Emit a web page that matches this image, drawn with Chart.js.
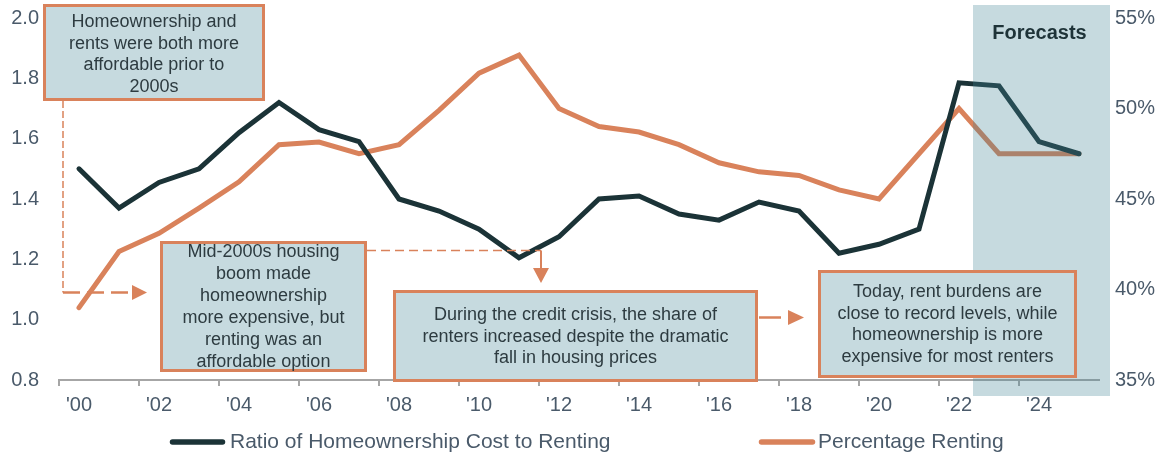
<!DOCTYPE html>
<html>
<head>
<meta charset="utf-8">
<script src="https://cdn.jsdelivr.net/npm/chart.js@4.4.1/dist/chart.umd.min.js"></script>
<style>
  html, body { margin: 0; padding: 0; background: #ffffff; }
  canvas { display: block; }
</style>
</head>
<body>
<canvas id="chart" width="1159" height="458"></canvas>
<script>
// Annual series, 2000-2025 (2023 onward are forecasts)
const years = [2000, 2001, 2002, 2003, 2004, 2005, 2006, 2007, 2008, 2009, 2010, 2011, 2012,
               2013, 2014, 2015, 2016, 2017, 2018, 2019, 2020, 2021, 2022, 2023, 2024, 2025];

// Ratio of homeownership cost to renting (left axis)
const ratioOwnToRent = [1.50, 1.37, 1.455, 1.50, 1.62, 1.72, 1.63, 1.59, 1.40, 1.36, 1.30, 1.205, 1.275,
                        1.40, 1.41, 1.35, 1.33, 1.39, 1.36, 1.22, 1.25, 1.30, 1.785, 1.775, 1.59, 1.55];

// Percentage of households renting (right axis, %)
const pctRenting = [39.0, 42.1, 43.1, 44.5, 45.95, 48.0, 48.15, 47.5, 48.0, 49.9, 51.95, 52.95, 50.0,
                    49.0, 48.7, 48.0, 47.0, 46.5, 46.3, 45.5, 45.0, 47.5, 50.0, 47.5, 47.5, 47.5];

// Labels shown under every other year
const xTickLabels = ["'00", "'02", "'04", "'06", "'08", "'10", "'12", "'14", "'16", "'18", "'20", "'22", "'24"];

const seriesNames = ['Ratio of Homeownership Cost to Renting', 'Percentage Renting'];

const DARK = '#1b3337';
const ORANGE = '#d9825b';
const PANEL = '#c6dadf';
const AXIS_TEXT = '#4a5a6a';
const NOTE_TEXT = '#2d3b40';
const FONT = "'Liberation Sans', Arial, Helvetica, sans-serif";

Chart.defaults.font.family = FONT;

// Callout notes (text is drawn centred in each box)
const notes = [
  { x1: 43, y1: 4, x2: 265, y2: 101, first: 22, step: 21.7,
    lines: ['Homeownership and', 'rents were both more', 'affordable prior to', '2000s'] },
  { x1: 160, y1: 241, x2: 367, y2: 372, first: 252.5, step: 21.9,
    lines: ['Mid-2000s housing', 'boom made', 'homeownership', 'more expensive, but', 'renting was an', 'affordable option'] },
  { x1: 393, y1: 290, x2: 758, y2: 382, first: 315, step: 21.6,
    lines: ['During the credit crisis, the share of', 'renters increased despite the dramatic', 'fall in housing prices'] },
  { x1: 818, y1: 270, x2: 1077, y2: 378, first: 292, step: 21.7,
    lines: ['Today, rent burdens are', 'close to record levels, while', 'homeownership is more', 'expensive for most renters'] }
];

function arrowHead(ctx, tipX, tipY, dir, len, half) {
  ctx.beginPath();
  if (dir === 'right') {
    ctx.moveTo(tipX, tipY);
    ctx.lineTo(tipX - len, tipY - half);
    ctx.lineTo(tipX - len, tipY + half);
  } else {
    ctx.moveTo(tipX, tipY);
    ctx.lineTo(tipX - half, tipY - len);
    ctx.lineTo(tipX + half, tipY - len);
  }
  ctx.closePath();
  ctx.fill();
}

// Vertical axes: no extra room for half-labels, the layout padding covers it
const noVerticalOverflow = s => { s.paddingTop = 0; s.paddingBottom = 0; };

// Forecast shading sits over the lines, tinting them
const forecastShade = {
  id: 'forecastShade',
  afterDatasetsDraw(chart) {
    const { ctx, chartArea, scales } = chart;
    const x = scales.x;
    const step = x.getPixelForValue(23) - x.getPixelForValue(22);
    const left = x.getPixelForValue(22) + 0.35 * step;
    const right = chartArea.right + 11;
    const top = chartArea.top - 13;
    const bottom = chartArea.bottom + 16;
    ctx.save();
    ctx.fillStyle = 'rgba(65,132,148,0.30)';
    ctx.fillRect(left, top, right - left, bottom - top);
    ctx.fillStyle = '#1e3338';
    ctx.font = 'bold 20px ' + FONT;
    ctx.textAlign = 'center';
    ctx.textBaseline = 'middle';
    ctx.fillText('Forecasts', (left + right) / 2 - 2, 33);
    ctx.restore();
  }
};

// Callout boxes, connectors and the legend
const overlays = {
  id: 'overlays',
  afterDraw(chart) {
    const ctx = chart.ctx;
    ctx.save();

    // connectors
    ctx.strokeStyle = ORANGE;
    ctx.fillStyle = ORANGE;
    ctx.lineCap = 'butt';

    // note 1: down then right
    ctx.lineWidth = 1.5;
    ctx.setLineDash([7, 3]);
    ctx.beginPath();
    ctx.moveTo(63, 101);
    ctx.lineTo(63, 292.5);
    ctx.stroke();
    ctx.lineWidth = 2.5;
    ctx.setLineDash([17, 7]);
    ctx.beginPath();
    ctx.moveTo(63, 292.5);
    ctx.lineTo(132, 292.5);
    ctx.stroke();
    ctx.setLineDash([]);
    arrowHead(ctx, 147, 292.5, 'right', 15, 7.5);

    // note 2: right then down
    ctx.lineWidth = 1.5;
    ctx.setLineDash([9, 5]);
    ctx.beginPath();
    ctx.moveTo(367, 250.5);
    ctx.lineTo(541, 250.5);
    ctx.stroke();
    ctx.setLineDash([]);
    ctx.lineWidth = 2;
    ctx.beginPath();
    ctx.moveTo(541, 250.5);
    ctx.lineTo(541, 269);
    ctx.stroke();
    arrowHead(ctx, 541, 283, 'down', 15, 8);

    // note 3 -> note 4
    ctx.lineWidth = 2.5;
    ctx.beginPath();
    ctx.moveTo(759, 317.5);
    ctx.lineTo(781, 317.5);
    ctx.stroke();
    arrowHead(ctx, 804, 317.5, 'right', 16, 7.5);

    // boxes
    notes.forEach(n => {
      ctx.fillStyle = PANEL;
      ctx.fillRect(n.x1, n.y1, n.x2 - n.x1, n.y2 - n.y1);
      ctx.lineWidth = 3;
      ctx.strokeStyle = ORANGE;
      ctx.strokeRect(n.x1 + 1.5, n.y1 + 1.5, n.x2 - n.x1 - 3, n.y2 - n.y1 - 3);
      ctx.fillStyle = NOTE_TEXT;
      ctx.font = '18px ' + FONT;
      ctx.textAlign = 'center';
      ctx.textBaseline = 'middle';
      const cx = (n.x1 + n.x2) / 2;
      n.lines.forEach((t, i) => ctx.fillText(t, cx, n.first + i * n.step));
    });

    // legend
    const items = [
      { x0: 172.5, x1: 222.5, tx: 230 },
      { x0: 761.5, x1: 812.5, tx: 818 }
    ];
    chart.data.datasets.forEach((ds, i) => {
      const it = items[i];
      const y = 442;
      ctx.strokeStyle = ds.borderColor;
      ctx.lineWidth = 5.5;
      ctx.lineCap = 'round';
      ctx.beginPath();
      ctx.moveTo(it.x0, y);
      ctx.lineTo(it.x1, y);
      ctx.stroke();
      ctx.fillStyle = AXIS_TEXT;
      ctx.font = '21px ' + FONT;
      ctx.textAlign = 'left';
      ctx.textBaseline = 'middle';
      ctx.fillText(ds.label, it.tx, y);
    });

    ctx.restore();
  }
};

new Chart(document.getElementById('chart'), {
  type: 'line',
  data: {
    labels: years,
    datasets: [
      {
        label: seriesNames[0],
        data: ratioOwnToRent,
        yAxisID: 'yLeft',
        borderColor: DARK,
        borderWidth: 5,
        borderCapStyle: 'round',
        borderJoinStyle: 'miter',
        pointRadius: 0,
        tension: 0
      },
      {
        label: seriesNames[1],
        data: pctRenting,
        yAxisID: 'yRight',
        borderColor: ORANGE,
        borderWidth: 5,
        borderCapStyle: 'round',
        borderJoinStyle: 'miter',
        pointRadius: 0,
        tension: 0
      }
    ]
  },
  options: {
    responsive: false,
    animation: false,
    devicePixelRatio: 1,
    layout: { padding: { top: 18, bottom: 38, left: 0, right: 0 } },
    plugins: {
      legend: { display: false },
      tooltip: { enabled: false }
    },
    scales: {
      x: {
        type: 'category',
        offset: true,
        afterFit: s => { s.height = 40; s.paddingLeft = 0; s.paddingRight = 0; },
        border: { display: true, color: '#a6a6a6', width: 2 },
        grid: {
          offset: true,
          drawOnChartArea: false,
          drawTicks: true,
          tickLength: 6,
          lineWidth: 2,
          color: c => (c.index % 2 === 0 ? '#a6a6a6' : 'rgba(0,0,0,0)')
        },
        ticks: {
          autoSkip: false,
          maxRotation: 0,
          minRotation: 0,
          padding: 7,
          color: AXIS_TEXT,
          font: { size: 20 },
          callback: (v, i) => (i % 2 === 0 ? xTickLabels[i / 2] : '')
        }
      },
      yLeft: {
        type: 'linear',
        position: 'left',
        min: 0.8,
        max: 2.0,
        afterFit: s => { s.width = 59; noVerticalOverflow(s); },
        border: { display: false },
        grid: { display: false, drawTicks: false },
        ticks: {
          stepSize: 0.2,
          padding: 20,
          color: AXIS_TEXT,
          font: { size: 20 },
          callback: v => Number(v).toFixed(1)
        }
      },
      yRight: {
        type: 'linear',
        position: 'right',
        min: 35,
        max: 55,
        afterFit: s => { s.width = 60; noVerticalOverflow(s); },
        border: { display: false },
        grid: { display: false, drawTicks: false },
        ticks: {
          stepSize: 5,
          padding: 16,
          color: AXIS_TEXT,
          font: { size: 20 },
          callback: v => v + '%'
        }
      }
    }
  },
  plugins: [forecastShade, overlays]
});
</script>
</body>
</html>
